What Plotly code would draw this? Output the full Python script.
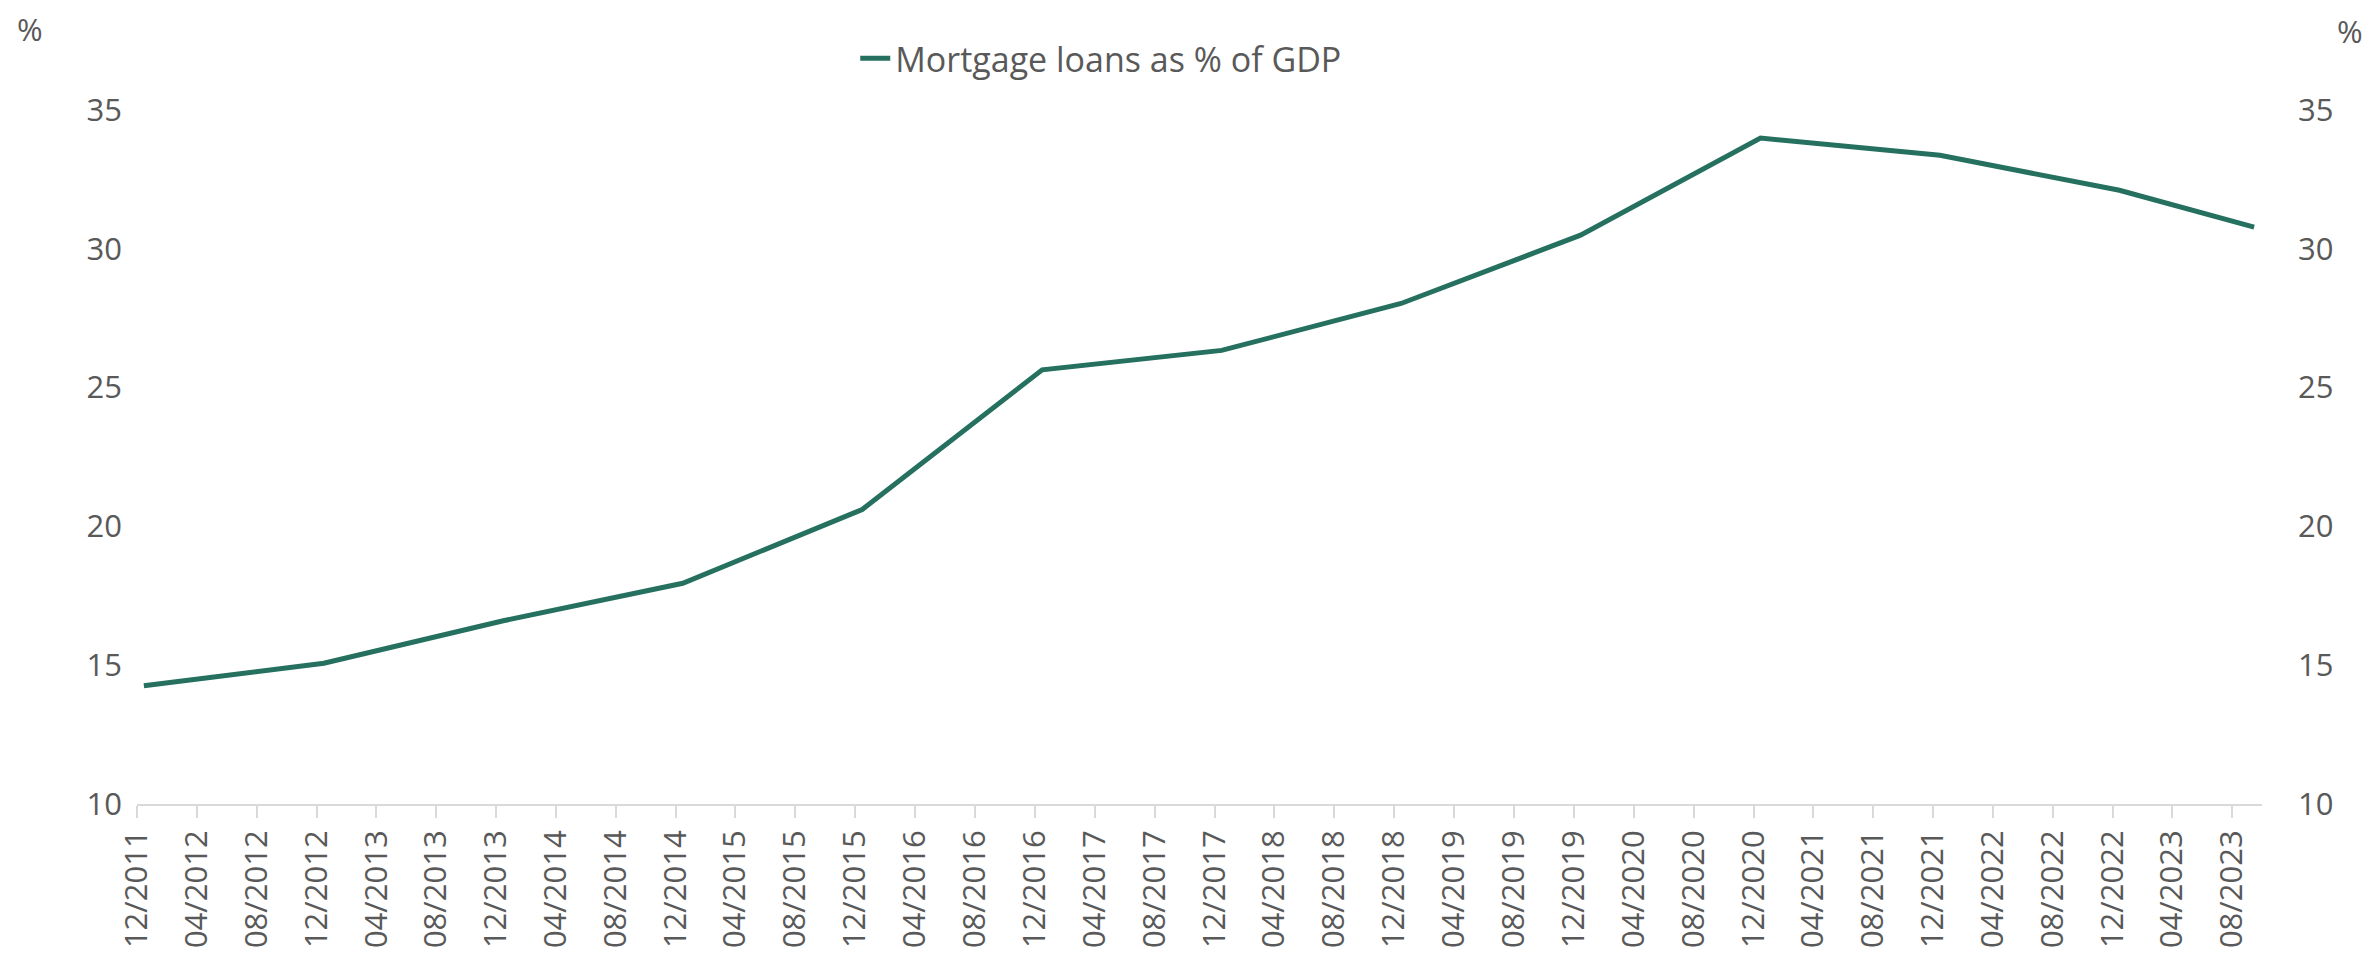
import plotly.graph_objects as go

dates = ["2011-12-15", "2012-12-15", "2013-12-15", "2014-12-15", "2015-12-15",
         "2016-12-15", "2017-12-15", "2018-12-15", "2019-12-15", "2020-12-15",
         "2021-12-15", "2022-12-15", "2023-09-15"]
mortgage_pct_gdp = [14.26, 15.07, 16.6, 17.95, 20.61, 25.64, 26.34, 28.03,
                    30.49, 33.99, 33.37, 32.11, 30.78]

series_name = "Mortgage loans as % of GDP"
x_start, x_end = "2011-12-01", "2023-10-01"
y_range = [10, 35]

LINE = "#25705F"
TXT = "#595959"
FONT = "Open Sans"
FS = 31

fig = go.Figure()
fig.add_trace(go.Scatter(
    x=dates, y=mortgage_pct_gdp, name=series_name, mode="lines",
    line=dict(color=LINE, width=5), yaxis="y"))
# invisible copy to anchor the right-hand axis
fig.add_trace(go.Scatter(
    x=dates, y=mortgage_pct_gdp, mode="lines", showlegend=False,
    line=dict(color="rgba(0,0,0,0)", width=0), hoverinfo="skip", yaxis="y2"))

fig.update_layout(
    width=2371, height=960,
    margin=dict(l=137, r=109, t=110, b=151),
    paper_bgcolor="white", plot_bgcolor="white",
    font=dict(family=FONT, size=FS, color=TXT),
    showlegend=True,
    legend=dict(orientation="h", x=0.338, xanchor="left", y=1.074, yanchor="middle",
                font=dict(family=FONT, size=34, color=TXT), bgcolor="rgba(0,0,0,0)"),
    xaxis=dict(type="date", range=[x_start, x_end], tick0="2011-12-01", dtick="M4",
               tickformat="%m/%Y", tickangle=-90, ticks="outside", ticklen=12,
               tickwidth=2, tickcolor="#D9D9D9", showline=True, linecolor="#D9D9D9",
               linewidth=2, showgrid=False, zeroline=False,
               tickfont=dict(family=FONT, size=FS, color=TXT)),
    yaxis=dict(range=y_range, dtick=5, showgrid=False, zeroline=False, showline=False,
               ticks="", ticklabelstandoff=14,
               tickfont=dict(family=FONT, size=FS, color=TXT)),
    yaxis2=dict(range=y_range, dtick=5, overlaying="y", side="right", showgrid=False,
                zeroline=False, showline=False, ticks="", ticklabelstandoff=35,
                tickfont=dict(family=FONT, size=FS, color=TXT)),
)

fig.add_annotation(text="%", xref="paper", yref="paper", x=-0.0504, y=1.116,
                   xanchor="center", yanchor="middle", showarrow=False,
                   font=dict(family=FONT, size=FS, color=TXT))
fig.add_annotation(text="%", xref="paper", yref="paper", x=1.0414, y=1.114,
                   xanchor="center", yanchor="middle", showarrow=False,
                   font=dict(family=FONT, size=FS, color=TXT))

fig.write_html("out.html")
